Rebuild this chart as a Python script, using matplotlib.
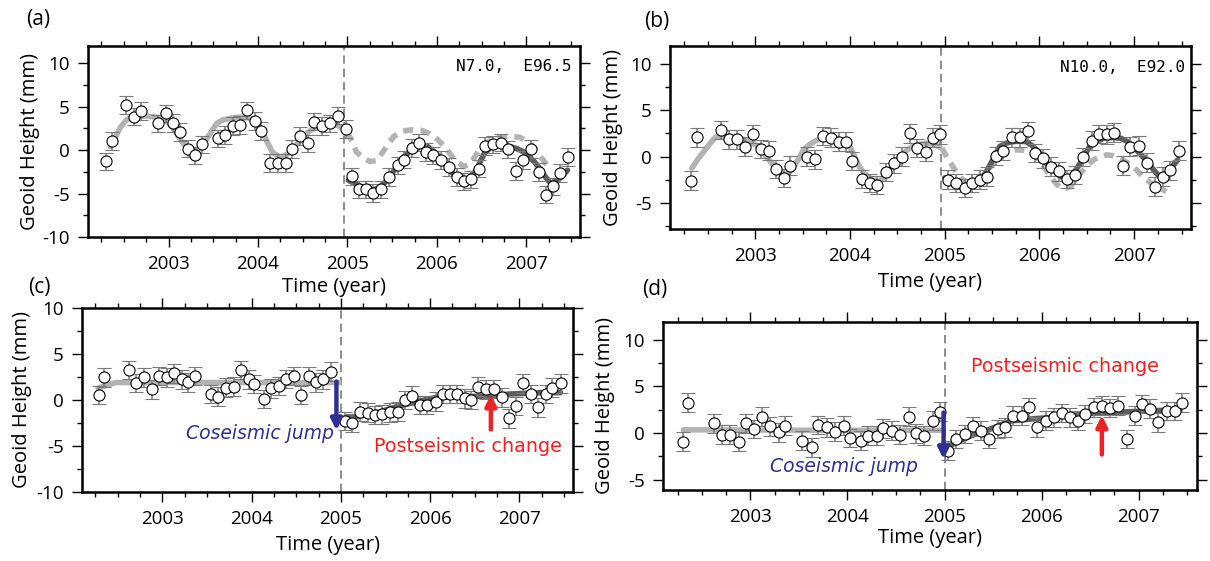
import matplotlib.pyplot as plt
from matplotlib.ticker import MultipleLocator

plt.rcParams['font.family'] = ['Open Sans', 'DejaVu Sans']
plt.rcParams['axes.unicode_minus'] = False

# ---- panel (a): N7.0, E96.5 ----
a_time = [2002.30, 2002.37, 2002.52, 2002.61, 2002.69, 2002.88, 2002.97,
          2003.05, 2003.13, 2003.22, 2003.30, 2003.37, 2003.55, 2003.63, 2003.72, 2003.80, 2003.88, 2003.97,
          2004.03, 2004.14, 2004.22, 2004.31, 2004.38, 2004.47, 2004.56, 2004.63, 2004.72, 2004.80, 2004.89, 2004.98,
          2005.05, 2005.13, 2005.21, 2005.29, 2005.38, 2005.47, 2005.56, 2005.63, 2005.72, 2005.80, 2005.88, 2005.96,
          2006.05, 2006.13, 2006.22, 2006.30, 2006.38, 2006.47, 2006.54, 2006.63, 2006.72, 2006.80, 2006.88, 2006.96,
          2007.05, 2007.14, 2007.22, 2007.30, 2007.38, 2007.47]
a_geoid = [-1.27, 1.04, 5.19, 3.85, 4.5, 3.08, 4.23,
           3.15, 2.1, 0.19, -0.58, 0.69, 1.35, 1.73, 2.77, 2.88, 4.6, 3.38,
           2.23, -1.46, -1.46, -1.46, 0.12, 1.65, 0.77, 3.27, 2.77, 3.08, 3.96, 2.42,
           -3.0, -4.5, -4.5, -4.92, -4.5, -3.08, -1.73, -1.08, 0.27, 0.88, -0.19, -0.58,
           -1.15, -1.92, -3.08, -3.58, -3.35, -2.12, 0.5, 0.69, 0.88, 0.08, -2.38, -1.15,
           0.12, -2.5, -5.12, -4.15, -2.62, -0.77]
a_pre_t = [2002.35, 2002.40, 2002.46, 2002.53, 2002.59, 2002.65, 2002.74, 2002.83, 2002.91, 2002.98,
           2003.04, 2003.09, 2003.14, 2003.20, 2003.26, 2003.32, 2003.38, 2003.43, 2003.49, 2003.54,
           2003.61, 2003.69, 2003.77, 2003.84, 2003.90, 2003.95, 2004.01, 2004.06, 2004.11, 2004.16,
           2004.21, 2004.25, 2004.30, 2004.36, 2004.42, 2004.47, 2004.53, 2004.59, 2004.66, 2004.74,
           2004.81, 2004.88, 2004.94, 2005.00]
a_pre_v = [0.4, 1.35, 2.6, 3.5, 3.8, 3.85, 3.95, 3.85, 3.7, 3.3,
           2.7, 1.9, 1.1, 0.4, 0.05, 0.0, 0.6, 1.35, 2.3, 3.1,
           3.5, 3.65, 3.8, 3.77, 3.7, 3.5, 2.8, 1.9, 0.8, -0.2,
           -0.6, -0.77, -0.65, -0.2, 0.5, 1.15, 1.8, 2.3, 2.65, 2.9,
           2.95, 2.9, 2.6, 2.1]
a_pred_t = [2005.00, 2005.05, 2005.10, 2005.18, 2005.25, 2005.33, 2005.43, 2005.52, 2005.62, 2005.72,
            2005.82, 2005.92, 2006.00, 2006.08, 2006.19, 2006.30, 2006.38, 2006.47, 2006.56, 2006.67,
            2006.79, 2006.92, 2007.00, 2007.07, 2007.14, 2007.20, 2007.27]
a_pred_v = [2.1, 1.0, -0.2, -0.9, -1.3, -1.2, 0.3, 1.6, 2.2, 2.35,
            2.3, 1.9, 1.3, 0.5, -1.0, -1.9, -1.5, 0.0, 0.9, 1.4,
            1.6, 1.5, 1.1, 0.5, -0.5, -1.3, -2.3]
a_post_t = [2005.01, 2005.11, 2005.20, 2005.29, 2005.36, 2005.43, 2005.50, 2005.56, 2005.64, 2005.71,
            2005.78, 2005.84, 2005.90, 2005.97, 2006.04, 2006.10, 2006.17, 2006.23, 2006.29, 2006.34,
            2006.40, 2006.45, 2006.49, 2006.53, 2006.60, 2006.68, 2006.76, 2006.83, 2006.90, 2006.97,
            2007.03, 2007.09, 2007.15, 2007.20, 2007.27, 2007.33, 2007.39, 2007.46]
a_post_v = [-3.45, -4.0, -4.4, -4.6, -4.3, -3.6, -2.7, -1.7, -0.7, 0.0,
            0.45, 0.57, 0.4, -0.19, -0.9, -1.7, -2.6, -3.25, -3.5, -3.45,
            -2.9, -2.1, -1.2, -0.38, 0.3, 0.57, 0.55, 0.38, 0.15, -0.19,
            -0.7, -1.34, -2.1, -2.9, -3.8, -3.6, -3.1, -2.3]

# ---- panel (b): N10.0, E92.0 ----
b_time = [2002.32, 2002.38, 2002.64, 2002.72, 2002.81, 2002.89, 2002.98,
          2003.06, 2003.14, 2003.22, 2003.30, 2003.37, 2003.55, 2003.63, 2003.71, 2003.80, 2003.88, 2003.96,
          2004.02, 2004.13, 2004.21, 2004.29, 2004.38, 2004.46, 2004.55, 2004.63, 2004.71, 2004.80, 2004.88, 2004.95,
          2005.03, 2005.12, 2005.21, 2005.29, 2005.37, 2005.45, 2005.54, 2005.62, 2005.71, 2005.79, 2005.88, 2005.95,
          2006.04, 2006.12, 2006.21, 2006.29, 2006.38, 2006.46, 2006.55, 2006.63, 2006.71, 2006.79, 2006.88, 2006.96,
          2007.05, 2007.14, 2007.22, 2007.30, 2007.38, 2007.47]
b_geoid = [-2.6, 2.08, 2.87, 1.86, 1.86, 1.08, 2.44,
           0.79, 0.65, -1.36, -2.33, -0.97, 0.0, -0.29, 2.22, 2.04, 1.61, 1.61,
           -0.47, -2.4, -2.87, -3.05, -1.68, -0.72, 0.0, 2.51, 0.9, 0.54, 2.04, 2.4,
           -2.5, -2.87, -3.4, -2.87, -2.5, -2.15, 0.07, 0.65, 2.08, 2.08, 2.76, 0.36,
           -0.18, -1.08, -1.61, -2.4, -1.97, -0.07, 1.72, 2.44, 2.4, 2.58, -0.97, 1.08,
           1.18, -0.65, -3.23, -2.15, -1.5, 0.65]
b_pre_t = [2002.33, 2002.40, 2002.47, 2002.53, 2002.58, 2002.65, 2002.72, 2002.80, 2002.89, 2002.96,
           2003.03, 2003.08, 2003.13, 2003.19, 2003.24, 2003.31, 2003.36, 2003.41, 2003.46, 2003.51,
           2003.56, 2003.62, 2003.69, 2003.76, 2003.83, 2003.90, 2003.95, 2004.00, 2004.05, 2004.10,
           2004.15, 2004.21, 2004.26, 2004.31, 2004.36, 2004.42, 2004.47, 2004.52, 2004.59, 2004.66,
           2004.73, 2004.80, 2004.88, 2004.95]
b_pre_v = [-1.25, -0.2, 0.72, 1.5, 2.08, 2.2, 2.15, 2.0, 1.8, 1.5,
           1.08, 0.5, -0.18, -0.9, -1.6, -1.97, -1.7, -1.08, -0.2, 0.72,
           1.2, 1.6, 1.95, 2.08, 2.0, 1.8, 1.5, 1.08, 0.0, -1.08,
           -1.8, -2.3, -2.6, -2.7, -2.2, -1.4, -0.7, 0.0, 0.6, 1.08,
           1.3, 1.44, 1.35, 1.0]
b_pred_t = [2004.97, 2005.04, 2005.10, 2005.17, 2005.25, 2005.33, 2005.42, 2005.50, 2005.58, 2005.66,
            2005.74, 2005.82, 2005.90, 2005.96, 2006.01, 2006.08, 2006.15, 2006.22, 2006.28, 2006.33,
            2006.39, 2006.45, 2006.51, 2006.57, 2006.64, 2006.71, 2006.78, 2006.85, 2006.92, 2006.99,
            2007.05, 2007.10, 2007.17, 2007.23, 2007.29, 2007.34]
b_pred_v = [0.9, -0.36, -1.3, -2.3, -2.9, -2.7, -1.8, -0.9, 0.0, 0.5,
            0.72, 0.7, 0.54, 0.0, -0.54, -1.6, -2.6, -3.4, -3.4, -3.2,
            -2.4, -1.6, -0.9, -0.36, 0.0, 0.18, 0.1, -0.2, -0.6, -1.08,
            -1.7, -2.3, -2.8, -3.2, -3.5, -3.76]
b_post_t = [2005.00, 2005.07, 2005.13, 2005.19, 2005.27, 2005.37, 2005.43, 2005.48, 2005.53, 2005.58,
            2005.65, 2005.72, 2005.79, 2005.86, 2005.92, 2005.97, 2006.03, 2006.08, 2006.15, 2006.22,
            2006.28, 2006.33, 2006.38, 2006.43, 2006.48, 2006.53, 2006.60, 2006.68, 2006.77, 2006.86,
            2006.93, 2006.99, 2007.06, 2007.14, 2007.21, 2007.28, 2007.34, 2007.39, 2007.46]
b_post_v = [-2.3, -2.9, -3.2, -3.4, -3.2, -2.5, -1.8, -0.9, 0.1, 1.08,
            1.45, 1.6, 1.65, 1.6, 1.2, 0.72, 0.0, -0.72, -1.5, -2.15,
            -2.3, -2.15, -1.5, -0.72, 0.2, 1.08, 1.6, 1.97, 2.05, 1.97,
            1.6, 1.08, 0.3, -0.54, -1.5, -2.3, -1.9, -1.25, -0.36]

# ---- panel (c) ----
c_time = [2002.29, 2002.35, 2002.63, 2002.70, 2002.79, 2002.88, 2002.96,
          2003.05, 2003.13, 2003.22, 2003.29, 2003.37, 2003.54, 2003.62, 2003.71, 2003.80, 2003.88, 2003.97,
          2004.03, 2004.14, 2004.22, 2004.31, 2004.39, 2004.47, 2004.55, 2004.64, 2004.72, 2004.80, 2004.89,
          2005.05, 2005.13, 2005.21, 2005.30, 2005.38, 2005.46, 2005.55, 2005.64, 2005.72, 2005.80, 2005.89, 2005.97,
          2006.06, 2006.14, 2006.22, 2006.30, 2006.39, 2006.46, 2006.54, 2006.63, 2006.71, 2006.80, 2006.88, 2006.96,
          2007.04, 2007.13, 2007.21, 2007.30, 2007.37, 2007.46]
c_geoid = [0.54, 2.46, 3.26, 1.88, 2.46, 1.16, 2.64,
           2.46, 2.9, 2.25, 1.92, 2.6, 0.62, 0.36, 1.34, 1.45, 3.26, 2.25,
           1.74, 0.11, 1.27, 1.52, 2.28, 2.6, 0.54, 2.64, 1.92, 2.25, 3.08,
           -2.25, -2.5, -1.27, -1.38, -1.63, -1.56, -1.34, -1.27, 0.0, 0.47, -0.54, -0.54,
           -0.18, 0.65, 0.65, 0.62, 0.18, 0.0, 1.45, 1.16, 1.2, 0.29, -1.99, -0.65,
           1.81, 0.65, -0.8, 0.65, 1.34, 1.81]
c_pre_t = [2002.28, 2002.38, 2002.48, 2004.98]
c_pre_v = [1.3, 1.6, 1.9, 1.9]
c_post_t = [2005.02, 2005.19, 2005.44, 2005.63, 2005.85, 2006.11, 2006.37, 2006.63, 2006.89, 2007.26, 2007.46]
c_post_v = [-2.0, -1.8, -1.27, -0.72, -0.18, 0.36, 0.36, 0.43, 0.65, 0.8, 0.8]

# ---- panel (d) ----
d_time = [2002.31, 2002.36, 2002.63, 2002.71, 2002.79, 2002.88, 2002.96,
          2003.04, 2003.12, 2003.20, 2003.29, 2003.36, 2003.53, 2003.63, 2003.70, 2003.79, 2003.87, 2003.96,
          2004.03, 2004.14, 2004.21, 2004.30, 2004.37, 2004.46, 2004.54, 2004.63, 2004.71, 2004.79, 2004.88, 2004.95,
          2005.04, 2005.12, 2005.21, 2005.29, 2005.38, 2005.46, 2005.55, 2005.62, 2005.71, 2005.80, 2005.87, 2005.95,
          2006.04, 2006.13, 2006.21, 2006.29, 2006.37, 2006.45, 2006.54, 2006.62, 2006.70, 2006.79, 2006.88, 2006.96,
          2007.03, 2007.12, 2007.20, 2007.29, 2007.37, 2007.45]
d_geoid = [-0.93, 3.27, 1.03, -0.18, -0.18, -0.93, 1.03,
           0.43, 1.74, 0.71, 0.07, 0.78, -0.82, -1.53, 0.85, 0.6, 0.14, 0.78,
           -0.53, -0.82, -0.28, -0.28, 0.5, 0.25, -0.18, 1.74, -0.04, -0.28, 1.32, 2.28,
           -1.89, -0.64, -0.1, 0.71, 0.25, -0.64, 0.43, 0.6, 1.85, 1.85, 2.74, 0.6,
           1.32, 1.67, 2.14, 1.67, 1.32, 2.03, 2.74, 2.92, 2.67, 2.92, -0.64, 1.85,
           3.1, 2.63, 1.14, 2.38, 2.38, 3.27]
d_pre_t = [2002.31, 2003.60, 2004.97]
d_pre_v = [0.35, 0.3, 0.3]
d_post_t = [2005.02, 2005.27, 2005.47, 2005.68, 2005.88, 2006.09, 2006.29, 2006.49, 2006.70, 2006.90, 2007.11, 2007.42]
d_post_v = [-1.5, -0.3, 0.43, 1.3, 1.5, 1.67, 1.85, 2.1, 2.2, 2.28, 2.38, 2.5]

ERR = 1.0

LIGHT = '#b3b3b3'
DARK = '#5c5c5c'
BLUE = '#2e3192'
RED = '#ee2222'
W, H = 1210, 561


def px_box(left, top, right, bottom):
    return [left / W, 1 - bottom / H, (right - left) / W, (bottom - top) / H]


def setup_axis(ax, ylim, quake, ylab_x, xlab_y):
    ax.set_xlim(2002.1, 2007.6)
    ax.set_ylim(*ylim)
    ax.xaxis.set_major_locator(MultipleLocator(1))
    ax.xaxis.set_minor_locator(MultipleLocator(0.25))
    ax.yaxis.set_major_locator(MultipleLocator(5))
    ax.yaxis.set_minor_locator(MultipleLocator(2.5))
    ax.xaxis.set_major_formatter(lambda x, pos: f"{x:.0f}")
    ax.tick_params(which='both', direction='out', top=True, right=True,
                   labelsize=13.5, width=1, colors='black')
    ax.tick_params(which='major', length=7, pad=6)
    ax.tick_params(which='minor', length=3.5)
    for s in ax.spines.values():
        s.set_linewidth(1.8)
    ax.axvline(quake, color='#7a7a7a', lw=1.2, ls=(0, (5, 3)), zorder=1)
    ax.set_ylabel('Geoid Height (mm)', fontsize=14.5, va='center')
    ax.set_xlabel('Time (year)', fontsize=14.5, va='center')
    ax.yaxis.set_label_coords(ylab_x, 0.5)
    ax.xaxis.set_label_coords(0.5, xlab_y)


def draw_data(ax, t, v):
    ax.errorbar(t, v, yerr=ERR, fmt='o', ms=8, mfc='white', mec='black', mew=0.8,
                ecolor='#7a7a7a', elinewidth=1.1, capsize=4.8, capthick=1.1, zorder=5)


def draw_curve(ax, t, v, color, dashed=False):
    ls = (0, (1.8, 1.3)) if dashed else '-'
    ax.plot(t, v, color=color, lw=4, ls=ls, solid_capstyle='round', zorder=2)


def draw_arrow(ax, x, y0, y1, color):
    ax.annotate('', xy=(x, y1), xytext=(x, y0),
                arrowprops=dict(arrowstyle='-|>', mutation_scale=16, lw=3.2, color=color,
                                shrinkA=0, shrinkB=0), zorder=6)


fig = plt.figure(figsize=(12.1, 5.61), dpi=100)

ax_a = fig.add_axes(px_box(88, 46, 580, 237))
setup_axis(ax_a, (-10, 12), 2004.96, -0.118, -0.262)
draw_curve(ax_a, a_pre_t, a_pre_v, LIGHT)
draw_curve(ax_a, a_pred_t, a_pred_v, LIGHT, dashed=True)
draw_curve(ax_a, a_post_t, a_post_v, DARK)
draw_data(ax_a, a_time, a_geoid)
ax_a.text(0.982, 0.895, 'N7.0,  E96.5', transform=ax_a.transAxes, ha='right', va='center',
          family='DejaVu Sans Mono', fontsize=11.5)

ax_b = fig.add_axes(px_box(670, 46, 1191, 229))
setup_axis(ax_b, (-7.8, 11.9), 2004.96, -0.109, -0.29)
draw_curve(ax_b, b_pre_t, b_pre_v, LIGHT)
draw_curve(ax_b, b_pred_t, b_pred_v, LIGHT, dashed=True)
draw_curve(ax_b, b_post_t, b_post_v, DARK)
draw_data(ax_b, b_time, b_geoid)
ax_b.text(0.988, 0.885, 'N10.0,  E92.0', transform=ax_b.transAxes, ha='right', va='center',
          family='DejaVu Sans Mono', fontsize=11.5)

ax_c = fig.add_axes(px_box(82, 308, 573, 492))
setup_axis(ax_c, (-10, 10), 2005.0, -0.122, -0.288)
draw_curve(ax_c, c_pre_t, c_pre_v, LIGHT)
draw_curve(ax_c, c_post_t, c_post_v, DARK)
draw_data(ax_c, c_time, c_geoid)
draw_arrow(ax_c, 2004.95, 2.0, -3.3, BLUE)
draw_arrow(ax_c, 2006.68, -3.2, 0.6, RED)
ax_c.text(2004.92, -3.6, 'Coseismic jump', color=BLUE, ha='right', va='center',
          fontsize=13.5, family='DejaVu Sans', style='italic', zorder=7)
ax_c.text(2005.37, -5.0, 'Postseismic change', color=RED, ha='left', va='center',
          fontsize=13.8, family='DejaVu Sans', zorder=7)

ax_d = fig.add_axes(px_box(663, 322, 1197, 490))
setup_axis(ax_d, (-6.1, 11.9), 2005.0, -0.109, -0.286)
draw_curve(ax_d, d_pre_t, d_pre_v, LIGHT)
draw_curve(ax_d, d_post_t, d_post_v, DARK)
draw_data(ax_d, d_time, d_geoid)
draw_arrow(ax_d, 2004.99, 2.2, -2.8, BLUE)
draw_arrow(ax_d, 2006.62, -2.3, 1.9, RED)
ax_d.text(2004.72, -3.63, 'Coseismic jump', color=BLUE, ha='right', va='center',
          fontsize=13.5, family='DejaVu Sans', style='italic', zorder=7)
ax_d.text(2005.27, 7.15, 'Postseismic change', color=RED, ha='left', va='center',
          fontsize=13.8, family='DejaVu Sans', zorder=7)

for label, x, y in (('(a)', 38, 20), ('(b)', 657, 22), ('(c)', 39, 287), ('(d)', 655, 290)):
    fig.text(x / W, 1 - y / H, label, ha='center', va='center', fontsize=15)

fig.savefig('out.png', dpi=100)
